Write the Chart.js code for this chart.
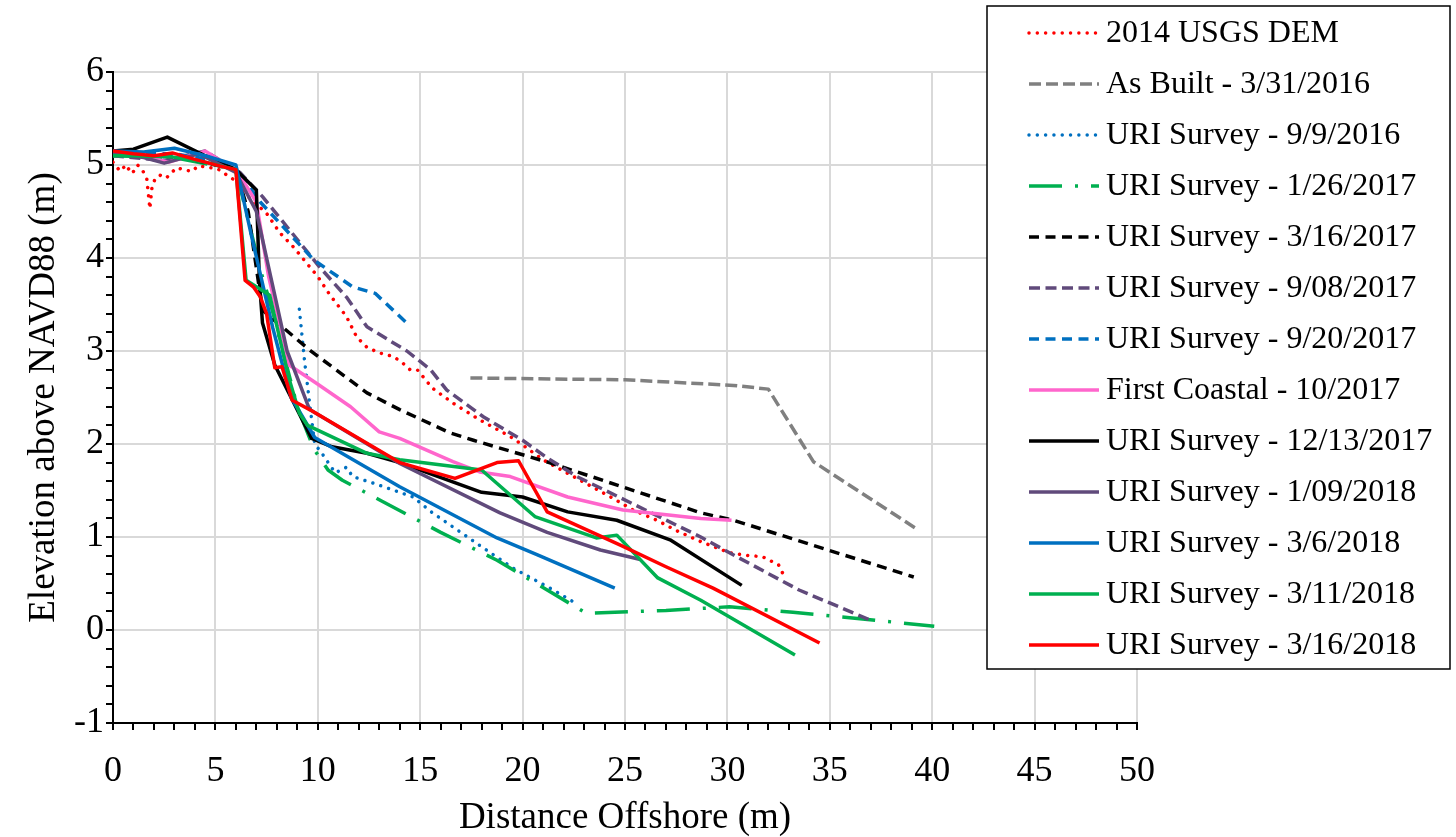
<!DOCTYPE html>
<html>
<head>
<meta charset="utf-8">
<script src="https://cdn.jsdelivr.net/npm/chart.js@4.4.0/dist/chart.umd.min.js"></script>
<style>
  html, body { margin: 0; padding: 0; background: #fff; }
  #wrap { width: 1456px; height: 837px; }
</style>
</head>
<body>
<div id="wrap"><canvas id="chart" width="1456" height="837"></canvas></div>
<script>
"use strict";

// Leyenda / series
const seriesLabels = [
  "2014 USGS DEM", "As Built - 3/31/2016", "URI Survey - 9/9/2016",
  "URI Survey - 1/26/2017", "URI Survey - 3/16/2017", "URI Survey - 9/08/2017",
  "URI Survey - 9/20/2017", "First Coastal - 10/2017", "URI Survey - 12/13/2017",
  "URI Survey - 1/09/2018", "URI Survey - 3/6/2018", "URI Survey - 3/11/2018",
  "URI Survey - 3/16/2018"
];

// Rango de los ejes
const xRange = [0, 50];
const yRange = [-1, 6];

// Perfiles [distancia (m), elevacion (m)]
const usgsDem2014 = [[0,5.03],[0.25,4.96],[0.45,5.0],[0.65,4.93],[0.85,4.98],[1.0,4.93],[1.2,5.0],[1.45,4.94],
  [1.65,4.85],[1.8,4.53],[1.9,4.75],[2.05,4.85],[2.3,4.89],[2.6,4.86],[3.1,4.97],[3.85,4.93],[4.15,4.99],
  [5.1,4.96],[6.05,4.82],[6.35,4.71],[7.5,4.48],[8.15,4.27],[8.8,4.12],[10.0,3.8],[10.6,3.6],[11.4,3.37],
  [11.9,3.15],[12.4,3.04],[13.0,2.98],[13.7,2.94],[14.15,2.87],[14.5,2.8],[14.85,2.8],[15.6,2.6],[16.6,2.44],
  [17.9,2.26],[19.4,2.08],[20.0,1.99],[21.0,1.83],[22.65,1.63],[24.3,1.43],[25.4,1.29],[26.55,1.18],
  [27.5,1.07],[28.7,0.95],[30.1,0.83],[31.0,0.8],[31.7,0.79],[32.5,0.7],[32.7,0.61]];
const asBuilt2016 = [[17.45,2.71],[25,2.69],[30.3,2.63],[32,2.59],[34.2,1.81],[39.15,1.1]];
const uri20160909 = [[9.1,3.45],[9.35,2.9],[9.6,2.44],[9.85,2.0],[10.2,1.9],[10.85,1.69],[11.4,1.75],
  [11.7,1.65],[12.7,1.58],[14.65,1.43],[15.6,1.26],[17.9,0.91],[19.5,0.67],[21.5,0.43],[22.5,0.3]];
const uri20170126 = [[0,5.1],[3,5.08],[6,4.95],[7.2,3.87],[7.8,3.42],[9.0,2.4],[9.8,1.95],[10.5,1.72],
  [11.2,1.61],[11.9,1.53],[13.0,1.4],[16.0,1.05],[18.75,0.75],[21.2,0.43],[22.65,0.24],[23.1,0.18],
  [27,0.21],[30.1,0.25],[33.2,0.19],[36.1,0.13],[40.1,0.04]];
const uri20170316 = [[0,5.12],[3,5.1],[6,4.95],[6.6,4.5],[7.3,3.44],[9.6,3.01],[12.4,2.55],[14,2.37],
  [16.45,2.12],[17.6,2.04],[21.3,1.8],[28.7,1.26],[30.3,1.18],[39.1,0.57]];
const uri20170908 = [[0,5.1],[2.5,5.05],[4.5,5.15],[6.2,4.92],[7.3,4.66],[10.1,3.9],[11.4,3.58],[12.4,3.26],
  [14.35,3.0],[15.5,2.8],[16.3,2.58],[18.1,2.29],[20,2.04],[21.2,1.85],[22.65,1.65],[28.7,1.0],[30.1,0.83],
  [33.5,0.43],[37.05,0.1]];
const uri20170920 = [[0,5.13],[3,5.12],[5,5.05],[6.2,4.9],[7.2,4.6],[9.8,3.98],[11.7,3.69],[12.8,3.62],[14.35,3.3]];
const firstCoastal2017 = [[0,5.12],[1.5,5.1],[2.7,5.03],[4.5,5.15],[5.8,4.97],[6.3,4.85],[7.0,4.6],[7.6,3.8],
  [8.6,2.85],[9.95,2.65],[11.6,2.4],[13,2.13],[14,2.06],[16.6,1.81],[17.9,1.7],[19.4,1.65],[22.2,1.43],
  [24.9,1.29],[28.7,1.2],[30.2,1.18]];
const uri20171213 = [[0,5.15],[1,5.17],[2.65,5.3],[4.5,5.1],[6,4.95],[7.0,4.73],[7.15,3.75],[7.3,3.3],
  [7.9,2.85],[9.7,2.06],[10.7,1.97],[12.4,1.9],[14,1.8],[18,1.48],[20,1.43],[22.2,1.27],[24.6,1.18],
  [27.2,0.97],[30.7,0.48]];
const uri20180109 = [[0,5.13],[1.5,5.08],[2.5,5.02],[4.2,5.12],[6,4.92],[7,4.5],[7.7,3.8],[8.5,3.0],
  [9.6,2.37],[14,1.79],[18.9,1.26],[21.2,1.05],[23.8,0.86],[25.7,0.76]];
const uri20180306 = [[0,5.15],[1.5,5.14],[3,5.18],[4.5,5.1],[6,5.0],[6.8,4.2],[7.8,3.25],[8.7,2.5],
  [9.85,2.07],[14,1.54],[18.75,0.99],[20.7,0.81],[24.5,0.45]];
const uri20180311 = [[0,5.1],[1,5.1],[2.8,5.09],[4.5,5.03],[6.0,4.95],[6.5,3.76],[7.65,3.6],[8.6,2.7],
  [9.1,2.33],[9.5,2.2],[12.4,1.9],[14,1.83],[18,1.72],[20.6,1.22],[23.6,0.99],[24.6,1.02],[26.6,0.56],
  [28.7,0.32],[33.3,-0.27]];
const uri20180316 = [[0,5.15],[1,5.12],[2,5.1],[2.9,5.13],[4,5.06],[5.2,4.99],[6.0,4.95],[6.45,3.76],
  [6.85,3.69],[7.2,3.58],[7.5,3.4],[7.9,2.82],[8.25,2.83],[8.75,2.47],[9.6,2.37],[14.0,1.8],[16.7,1.63],
  [18.75,1.8],[19.8,1.82],[21.2,1.27],[24.8,0.91],[27,0.68],[29.3,0.45],[34.5,-0.14]];

const profiles = [usgsDem2014, asBuilt2016, uri20160909, uri20170126, uri20170316, uri20170908,
  uri20170920, firstCoastal2017, uri20171213, uri20180109, uri20180306, uri20180311, uri20180316];

// Estilo de cada serie: color, guiones, terminacion
const styles = [
  { color: "#FF0000", dash: [0.01, 8.3], cap: "round" },
  { color: "#808080", dash: [12, 5], cap: "butt" },
  { color: "#0070C0", dash: [0.01, 8.3], cap: "round" },
  { color: "#00B050", dash: [33, 13, 3, 13], cap: "butt" },
  { color: "#000000", dash: [10, 6.5], cap: "butt" },
  { color: "#604A7B", dash: [11, 5.5], cap: "butt" },
  { color: "#0070C0", dash: [10, 6.5], cap: "butt" },
  { color: "#FF66CC", dash: [], cap: "butt" },
  { color: "#000000", dash: [], cap: "butt" },
  { color: "#604A7B", dash: [], cap: "butt" },
  { color: "#0070C0", dash: [], cap: "butt" },
  { color: "#00B050", dash: [], cap: "butt" },
  { color: "#FF0000", dash: [], cap: "butt" }
];

const serif = '"Liberation Serif", "Times New Roman", serif';
const isWhole = (v, step) => Math.abs(v / step - Math.round(v / step)) < 1e-6;

// Leyenda dibujada a mano (recuadro blanco a la derecha)
const legendBox = {
  id: "legendBox",
  afterDraw(chart) {
    const ctx = chart.ctx;
    ctx.save();
    ctx.fillStyle = "#fff";
    ctx.fillRect(987, 6, 463, 663);
    ctx.strokeStyle = "#000";
    ctx.lineWidth = 1.5;
    ctx.strokeRect(987, 6, 463, 663);
    chart.data.datasets.forEach((ds, i) => {
      const y = 33 + i * 51;
      ctx.beginPath();
      ctx.setLineDash(ds.borderDash);
      ctx.lineCap = ds.borderCapStyle;
      ctx.lineWidth = ds.borderWidth;
      ctx.strokeStyle = ds.borderColor;
      ctx.moveTo(1029, y);
      ctx.lineTo(1099, y);
      ctx.stroke();
      ctx.setLineDash([]);
      ctx.fillStyle = "#000";
      ctx.font = "32px " + serif;
      ctx.textBaseline = "middle";
      ctx.fillText(ds.label, 1106, y + 1);
    });
    ctx.restore();
  }
};

new Chart(document.getElementById("chart"), {
  type: "scatter",
  data: {
    datasets: profiles.map((pts, i) => ({
      label: seriesLabels[i],
      data: pts.map(p => ({ x: p[0], y: p[1] })),
      showLine: true,
      borderColor: styles[i].color,
      borderWidth: 3.5,
      borderDash: styles[i].dash,
      borderCapStyle: styles[i].cap,
      borderJoinStyle: "round",
      pointRadius: 0,
      tension: 0,
      fill: false,
      order: profiles.length - i
    }))
  },
  options: {
    responsive: false,
    animation: false,
    layout: { padding: { top: 72, right: 319, left: 0, bottom: 0 } },
    plugins: {
      legend: { display: false },
      title: { display: false },
      tooltip: { enabled: false }
    },
    scales: {
      x: {
        type: "linear",
        min: xRange[0],
        max: xRange[1],
        afterFit: s => { s.height = 114; },
        border: { color: "#000", width: 2 },
        grid: {
          color: c => isWhole(c.tick.value, 5) ? "#D9D9D9" : "rgba(0,0,0,0)",
          tickColor: "#000",
          lineWidth: 2,
          tickLength: 7
        },
        ticks: {
          stepSize: 1,
          autoSkip: false,
          maxRotation: 0,
          padding: 20,
          color: "#000",
          font: { family: serif, size: 36 },
          callback: v => isWhole(v, 5) ? String(Math.round(v)) : ""
        },
        title: {
          display: true,
          text: "Distance Offshore (m)",
          color: "#000",
          font: { family: serif, size: 37, lineHeight: 1 },
          padding: 0
        }
      },
      y: {
        type: "linear",
        min: yRange[0],
        max: yRange[1],
        afterFit: s => { s.width = 113; },
        border: { color: "#000", width: 2 },
        grid: {
          color: c => isWhole(c.tick.value, 1) ? "#D9D9D9" : "rgba(0,0,0,0)",
          tickColor: "#000",
          lineWidth: 2,
          tickLength: 7
        },
        ticks: {
          stepSize: 0.2,
          autoSkip: false,
          padding: 2,
          color: "#000",
          font: { family: serif, size: 36 },
          callback: v => isWhole(v, 1) ? String(Math.round(v)) : ""
        },
        title: {
          display: true,
          text: "Elevation above NAVD88 (m)",
          color: "#000",
          font: { family: serif, size: 37, lineHeight: 1 },
          padding: { top: 26, bottom: 0 }
        }
      }
    }
  },
  plugins: [legendBox]
});
</script>
</body>
</html>
